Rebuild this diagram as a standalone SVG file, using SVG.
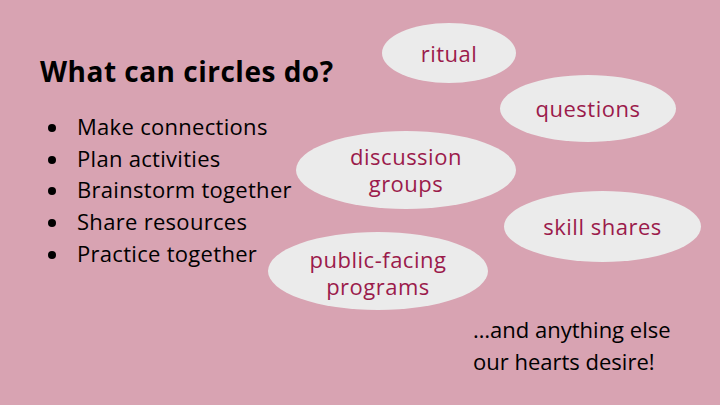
<svg xmlns="http://www.w3.org/2000/svg" width="720" height="405" viewBox="0 0 720 405">
<style>
.t{font-family:"Open Sans","Liberation Sans",sans-serif;fill:#000}
.h{font-weight:bold;font-size:28px;letter-spacing:0.5px}
.b{font-size:22px;letter-spacing:0.3px}
.e{fill:#ebebeb}
.l{font-family:"Open Sans","Liberation Sans",sans-serif;font-size:22px;letter-spacing:0.5px;fill:#9b1b4b;text-anchor:middle}
</style>
<rect width="720" height="405" fill="#d8a3b2"/>
<text class="t h" x="40" y="82">What can circles do?</text>
<g id="bullets">
<circle cx="52" cy="128" r="4"/><text class="t b" x="77" y="135">Make connections</text>
<circle cx="52" cy="160" r="4"/><text class="t b" x="77" y="167">Plan activities</text>
<circle cx="52" cy="191" r="4"/><text class="t b" x="77" y="198">Brainstorm together</text>
<circle cx="52" cy="223" r="4"/><text class="t b" x="77" y="230">Share resources</text>
<circle cx="52" cy="255" r="4"/><text class="t b" x="77" y="262">Practice together</text>
</g>
<g id="ritual"><ellipse class="e" cx="449" cy="53" rx="67" ry="30"/><text class="l" x="449" y="62">ritual</text></g>
<g id="questions"><ellipse class="e" cx="588" cy="108.5" rx="88" ry="33.5"/><text class="l" x="588" y="117">questions</text></g>
<g id="discussion"><ellipse class="e" cx="406" cy="170" rx="110" ry="39"/><text class="l" x="406" y="165">discussion</text><text class="l" x="406" y="192">groups</text></g>
<g id="skill"><ellipse class="e" cx="602.5" cy="226.5" rx="98.5" ry="35.5"/><text class="l" x="602.5" y="235">skill shares</text></g>
<g id="public"><ellipse class="e" cx="378" cy="271" rx="110" ry="39"/><text class="l" x="378" y="268">public-facing</text><text class="l" x="378" y="295">programs</text></g>
<g id="connectors"></g>
<text class="t b" x="473" y="338" style="letter-spacing:0">…and anything else</text>
<text class="t b" x="473" y="370" style="letter-spacing:0">our hearts desire!</text>
</svg>
